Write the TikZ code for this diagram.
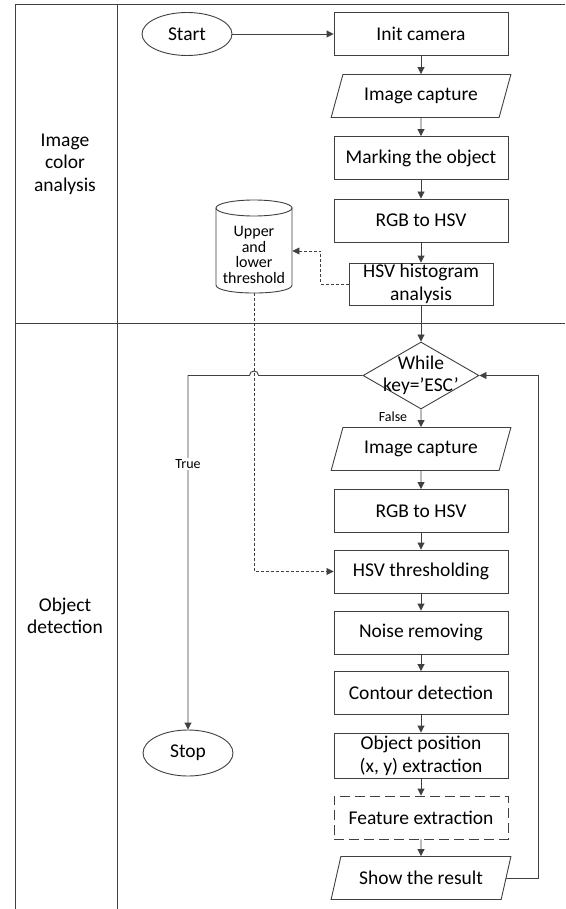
\documentclass[tikz,border=0pt]{standalone}
\usepackage{fontspec}
\setmainfont{Carlito}
\usetikzlibrary{shapes.geometric,arrows.meta,calc}
\definecolor{lc}{HTML}{404040}
\begin{document}
\begin{tikzpicture}[x=1pt,y=-1pt,line width=0.9pt,
  mainfont/.style={font=\fontsize{19.5pt}{23pt}\selectfont},
  box/.style={draw=lc,rectangle,minimum width=174pt,minimum height=43pt,inner sep=2pt,align=center,mainfont},
  iobox/.style={draw=lc,trapezium,trapezium left angle=64,trapezium right angle=116,trapezium stretches=true,minimum width=180pt,minimum height=43pt,inner sep=1pt,mainfont},
  term/.style={draw=lc,ellipse,minimum width=90pt,minimum height=43pt,inner sep=0pt,mainfont},
  arr/.style={draw=lc,-{Triangle[length=7pt,width=7pt]}},
  dasharr/.style={arr,line width=0.7pt,dash pattern=on 3pt off 2pt},
  lbl/.style={font=\fontsize{14pt}{16pt}\selectfont,inner sep=1pt},
  lane/.style={align=center,font=\fontsize{19.5pt}{22.5pt}\selectfont}]
\useasboundingbox (0,0) rectangle (565,909);
\fill[white] (0,0) rectangle (565,909);
% swimlanes
\draw[lc] (15,909) -- (15,4) -- (565,4);
\draw[lc] (117,4) -- (117,909);
\draw[lc] (15,323) -- (565,323);
\node[lane] (lane1) at (65,164) {Image\\color\\analysis};
\node[lane] (lane2) at (65,616) {Object\\detection};
% nodes
\node[term] (start) at (187,34) {Start};
\node[box] (init) at (421,34) {Init camera};
\node[iobox] (cap1) at (421,96) {Image capture};
\node[box] (mark) at (421,158) {Marking the object};
\node[box] (rgb1) at (421,220.5) {RGB to HSV};
\node[box,minimum width=144pt,minimum height=42pt,inner sep=0pt] (hist) at (421,284) {HSV histogram\\analysis};
\node[draw=lc,diamond,minimum width=116pt,minimum height=67pt,inner sep=0pt] (dia) at (421,375.5) {};
\node[align=center,font=\fontsize{19.5pt}{22pt}\selectfont] (diatext) at (dia) {While\\key=’ESC’};
\node[iobox] (cap2) at (421,449) {Image capture};
\node[box] (rgb2) at (421,511) {RGB to HSV};
\node[box] (thr) at (421,571.5) {HSV thresholding};
\node[box] (noise) at (421,632.5) {Noise removing};
\node[box] (contour) at (421,693) {Contour detection};
\node[box,minimum height=45pt,inner sep=0pt] (objpos) at (421,755.5) {Object position\\(x, y) extraction};
\node[box,dash pattern=on 10pt off 5pt] (feat) at (421,817.5) {Feature extraction};
\node[iobox] (show) at (421,878) {Show the result};
\node[term,minimum height=46pt] (stop) at (188,753) {Stop};
% cylinder
\node[minimum width=76pt,minimum height=93pt,inner sep=0pt] (db) at (254,246.5) {};
\draw[lc] (254,208) ellipse [x radius=38pt, y radius=8pt];
\draw[lc] (216,208) -- (216,285) .. controls (216,295.7) and (292,295.7) .. (292,285) -- (292,208);
\node[align=center,font=\fontsize{16pt}{15.5pt}\selectfont] (dbtext) at (254,255) {Upper\\and\\lower\\threshold};
% connectors
\draw[arr] (start) -- (init);
\draw[arr] (init) -- (cap1);
\draw[arr] (cap1) -- (mark);
\draw[arr] (mark) -- (rgb1);
\draw[arr] (rgb1) -- (hist);
\draw[arr] (hist) -- (dia);
\draw[arr] (dia) -- (cap2);
\draw[arr] (cap2) -- (rgb2);
\draw[arr] (rgb2) -- (thr);
\draw[arr] (thr) -- (noise);
\draw[arr] (noise) -- (contour);
\draw[arr] (contour) -- (objpos);
\draw[arr] (objpos) -- (feat);
\draw[arr] (feat) -- (show);
\draw[dasharr] (hist.west) -- ++(-28,0) |- ($(db.east)+(0,4.5)$);
\draw[dasharr] (db.south) |- (thr.west);
\coordinate (jr) at ($(db.south |- dia.west)+(4.5,0)$);
\coordinate (jl) at ($(db.south |- dia.west)+(-4.5,0)$);
\draw[arr] (dia.west) -- (jr) .. controls ($(jr)+(0,-6)$) and ($(jl)+(0,-6)$) .. (jl) -- (dia.west -| stop.north) -- (stop.north);
\coordinate (loopx) at (538,0);
\draw[arr] (show.east) -- (show.east -| loopx) |- (dia.east);
\node[lbl,fill=white] (truelbl) at (188,464) {True};
\node[lbl] (falselbl) at (393,417) {False};
\end{tikzpicture}
\end{document}
